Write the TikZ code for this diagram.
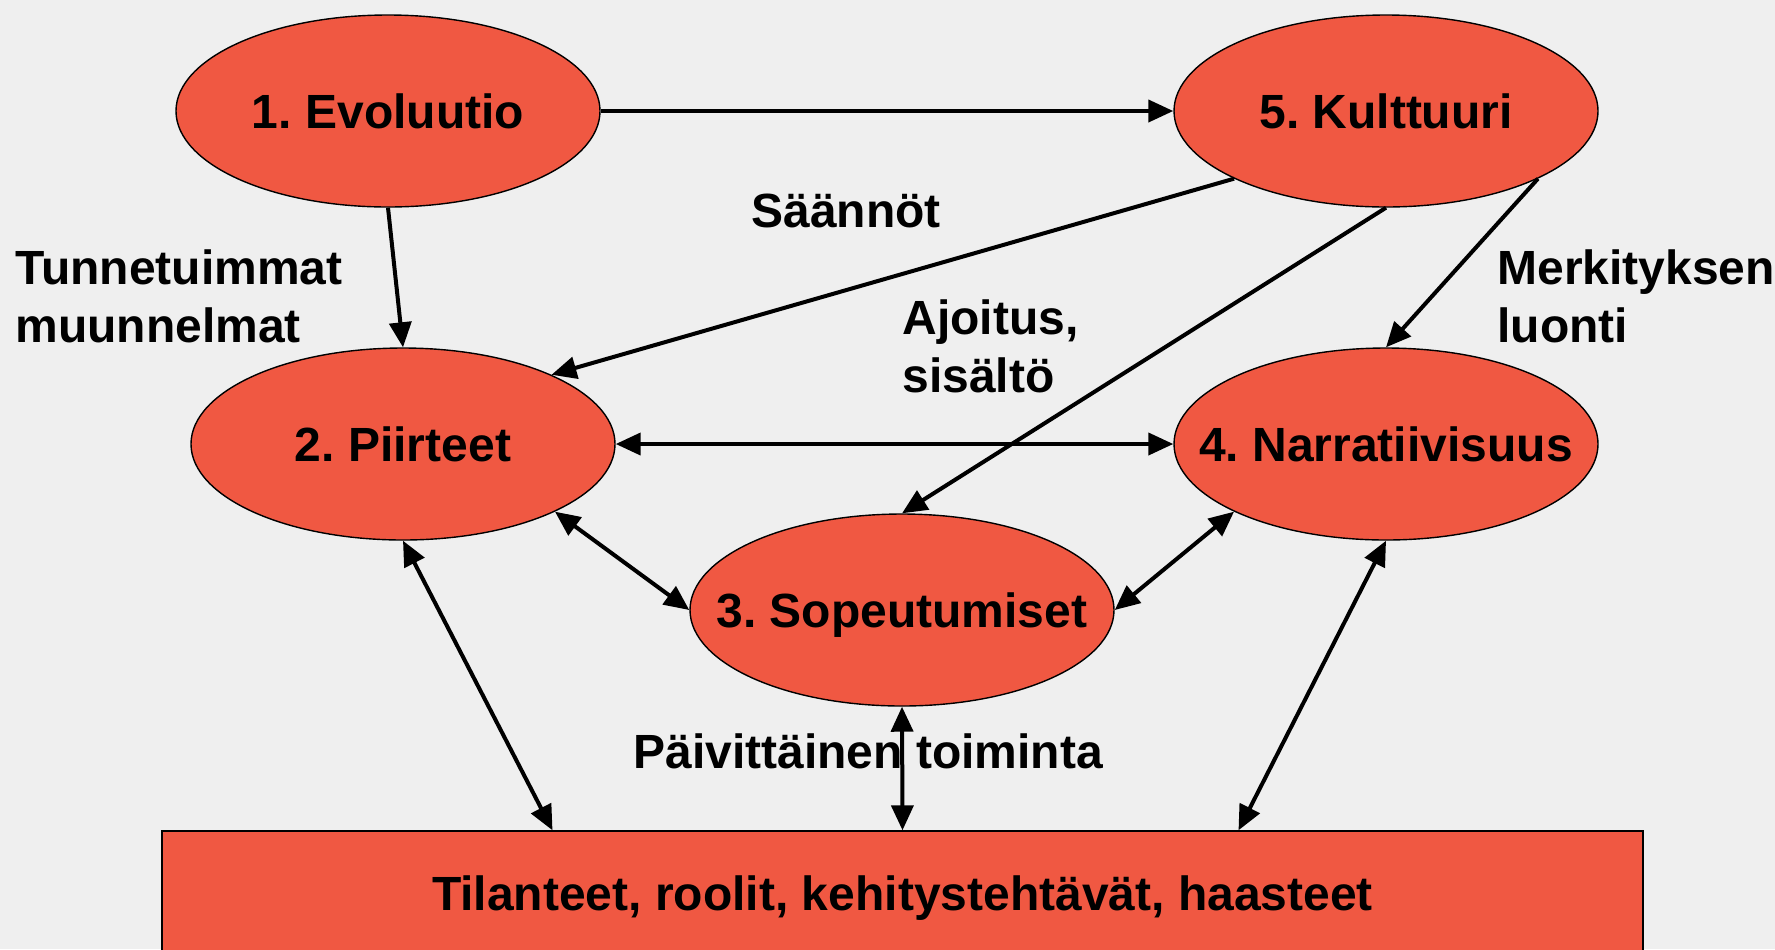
\documentclass[tikz,border=0pt]{standalone}
\usepackage{fontspec}
\setmainfont{Liberation Sans}
\usetikzlibrary{shapes.geometric,arrows.meta}
\definecolor{paper}{RGB}{239,239,239}
\definecolor{tomato}{RGB}{240,88,66}
\newcommand{\zw}[1]{\makebox[0pt]{#1}}
\frenchspacing
\tikzset{
	stage/.style={ellipse, draw=black, line width=0.7pt, fill=tomato, minimum width=212pt, minimum height=96pt, inner sep=0pt, text depth=0pt},
	ground/.style={rectangle, draw=black, line width=0.7pt, fill=tomato, minimum width=740.5pt, minimum height=62pt, text depth=0pt},
	link/.style={line width=2pt, -{Triangle[length=12.5pt,width=11pt]}},
	both/.style={line width=2pt, {Triangle[length=12.5pt,width=11pt]}-{Triangle[length=12.5pt,width=11pt]}},
	lbl/.style={inner sep=0pt, align=left}
}

\begin{document}
\begin{tikzpicture}[x=0.5pt, y=-0.5pt, font=\fontsize{24}{29}\selectfont\bfseries]
	\useasboundingbox (0,0) rectangle (1775,949);
	\fill[paper] (0,0) rectangle (1775,949);
	\clip (0,0) rectangle (1775,949);

	\node[stage] (evo) at (388,111) {\zw{1. Evoluutio}};
	\node[stage] (kult) at (1386,111) {\zw{5. Kulttuuri}};
	\node[stage] (piir) at (403,444) {\zw{2. Piirteet}};
	\node[stage] (narr) at (1386,444) {\zw{4. Narratiivisuus}};
	\node[stage] (sope) at (902,610) {\zw{3. Sopeutumiset}};
	\node[ground] (tila) at (902.5,893) {Tilanteet, roolit, kehitystehtävät, haasteet};

	\node[lbl, anchor=west] (tunn) at (15,296) {Tunnetuimmat\\muunnelmat};
	\node (saan) at (846,211) {Säännöt};
	\node[lbl, anchor=west] (ajoi) at (902,346) {Ajoitus,\\sisältö};
	\node[lbl, anchor=west] (merk) at (1497,296) {Merkityksen\\luonti};
	\node (paiv) at (868,751) {Päivittäinen toiminta};

	\draw[link] (evo) -- (kult);
	\draw[link] (evo.south) -- (piir.north);
	\draw[link] (kult.204) -- (piir.25);
	\draw[link] (kult.south) -- (sope.north);
	\draw[link] (kult.336) -- (narr.north);
	\draw[both] (piir) -- (narr);
	\draw[both] (piir.336) -- (sope.west);
	\draw[both] (narr.204) -- (sope.east);
	\draw[both] (piir.south) -- ([xshift=-175pt]tila.north);
	\draw[both] (sope.south) -- (tila.north);
	\draw[both] (narr.south) -- ([xshift=168pt]tila.north);
\end{tikzpicture}
\end{document}
